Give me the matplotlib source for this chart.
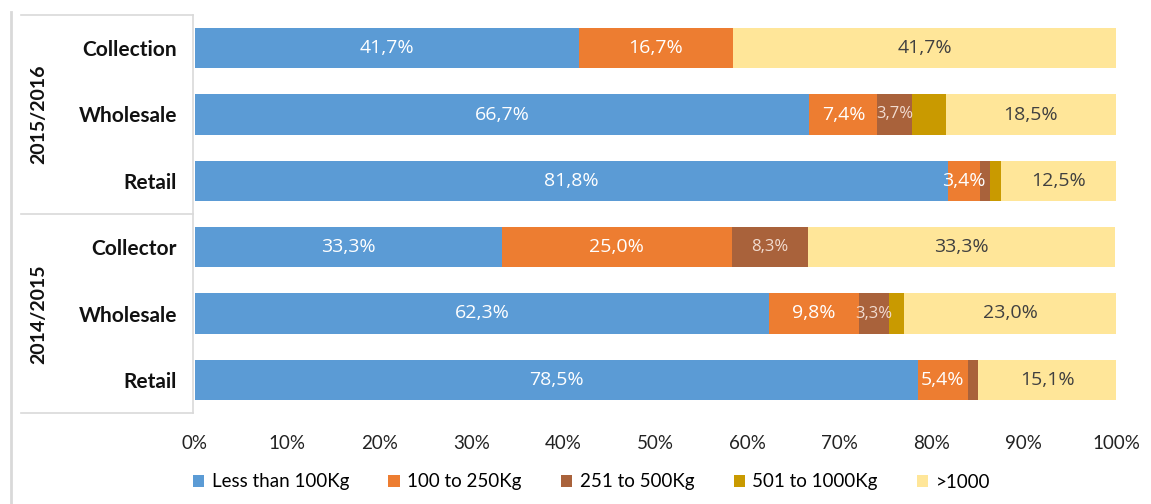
import numpy as np
import matplotlib.pyplot as plt
from matplotlib.lines import Line2D

# rows from top to bottom
categories = ["Collection", "Wholesale", "Retail", "Collector", "Wholesale", "Retail"]
years = ["2015/2016", "2014/2015"]
series_names = ["Less than 100Kg", "100 to 250Kg", "251 to 500Kg", "501 to 1000Kg", ">1000"]
less_100 = [41.7, 66.7, 81.8, 33.3, 62.3, 78.5]
kg_100_250 = [16.7, 7.4, 3.4, 25.0, 9.8, 5.4]
kg_251_500 = [0.0, 3.7, 1.1, 8.3, 3.3, 1.1]
kg_501_1000 = [0.0, 3.7, 1.2, 0.0, 1.6, 0.0]
over_1000 = [41.7, 18.5, 12.5, 33.3, 23.0, 15.1]
# which segments carry a value label
show_label = [
    [True, True, True, True, True, True],
    [True, True, True, True, True, True],
    [False, True, False, True, True, False],
    [False, False, False, False, False, False],
    [True, True, True, True, True, True],
]

colors = ["#5B9BD5", "#ED7D31", "#A9623B", "#C99A00", "#FFE699"]
label_colors = ["white", "white", "#F2DCD0", "white", "#404040"]
label_sizes = [14, 14, 12, 12, 14]

plt.rcParams['font.family'] = ['Lato', 'DejaVu Sans']

fig = plt.figure(figsize=(11.51, 5.04), dpi=100)
W, H = 1151, 504
ax = fig.add_axes([195 / W, 1 - 413 / H, 921 / W, 398 / H])

data = [less_100, kg_100_250, kg_251_500, kg_501_1000, over_1000]
y = np.arange(len(categories))
left = np.zeros(len(categories))
for i, vals in enumerate(data):
    vals = np.array(vals)
    ax.barh(y, vals, left=left, height=0.606, color=colors[i], label=series_names[i])
    for j, v in enumerate(vals):
        if show_label[i][j] and v > 0:
            ax.text(left[j] + v / 2, y[j], f"{v:.1f}%".replace(".", ","),
                    ha="center", va="center", color=label_colors[i],
                    fontsize=label_sizes[i], family=["Open Sans", "DejaVu Sans"])
    left += vals

ax.set_xlim(0, 100)
ax.set_ylim(len(categories) - 0.5, -0.5)
ax.set_xticks(np.arange(0, 101, 10))
ax.set_xticklabels([f"{t}%" for t in range(0, 101, 10)], fontsize=13.5, color="#222222")
ax.set_yticks(y)
ax.set_yticklabels(categories, fontsize=15, fontweight="bold", color="#111111")
ax.tick_params(axis="x", length=0, pad=16)
ax.tick_params(axis="y", length=0, pad=13)
for s in ax.spines.values():
    s.set_visible(False)

# group brackets on the left
lc = "#D9D9D9"
def fline(x0, y0, x1, y1, lw=1.2):
    fig.add_artist(Line2D([x0 / W, x1 / W], [1 - y0 / H, 1 - y1 / H], color=lc, lw=lw))

fline(11, 12, 11, 504, lw=2.0)
fline(21, 15, 193, 15)
fline(193, 15, 193, 413)
fline(21, 214, 193, 214)
fline(21, 413, 193, 413)
fig.text(39 / W, 1 - 114 / H, years[0], rotation=90, ha="center", va="center",
         fontsize=14, fontweight="bold", color="#111111")
fig.text(39 / W, 1 - 314 / H, years[1], rotation=90, ha="center", va="center",
         fontsize=14, fontweight="bold", color="#111111")

fig.legend(loc="center left", bbox_to_anchor=(176 / W, 1 - 482 / H), ncol=5,
           frameon=False, fontsize=13.5, handlelength=0.6, handleheight=0.6,
           handletextpad=0.4, columnspacing=2.1)

fig.savefig("out.png", dpi=100)
